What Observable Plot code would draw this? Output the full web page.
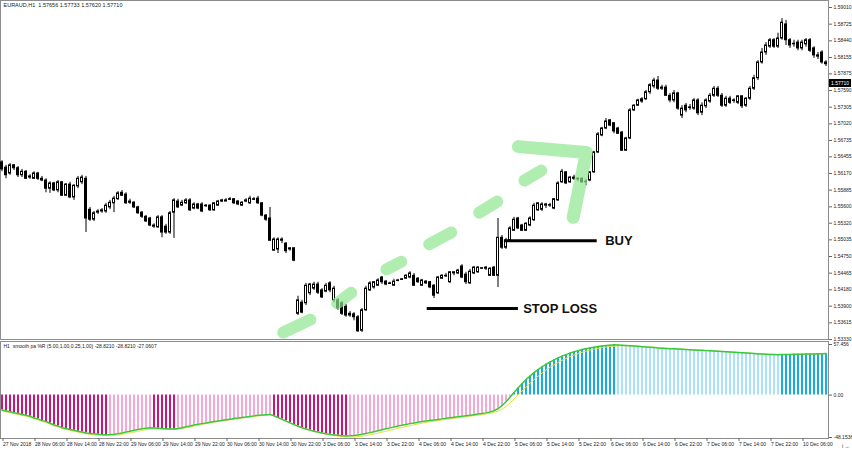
<!DOCTYPE html>
<html><head><meta charset="utf-8">
<script src="https://cdn.jsdelivr.net/npm/d3@7"></script>
<script src="https://cdn.jsdelivr.net/npm/@observablehq/plot@0.6"></script>
<style>
body{margin:0;background:#fff;}
#chart{position:relative;width:852px;height:450px;overflow:hidden;background:#fff;}
#chart svg{position:absolute;left:0;}
</style></head><body><div id="chart"></div>
<script>
const title = "EURAUD,H1  1.57656 1.57733 1.57620 1.57710";
const indTitle = "H1  smooth pa %R (5.00,1.00,0.25,1.00) -28.8210 -28.8210 -27.0607";
const lastPrice = 1.57710;
const priceTicks = [1.59010,1.58725,1.58440,1.58155,1.57875,1.57590,1.57305,1.57020,1.56735,1.56455,1.56170,1.55885,1.55600,1.55320,1.55035,1.54750,1.54465,1.54180,1.53900,1.53615,1.53330];
const indTicks = [57.456, 0, -48.1536];
const indTickLabels = ["57.456", "0.00", "-48.1536"];
const timeIdx = [0,8,16,24,32,40,48,56,64,72,80,88,96,104,112,120,128,136,144,152,160,168,176,184,192,200];
const timeLabels = ["27 Nov 2018","28 Nov 06:00","28 Nov 14:00","28 Nov 22:00","29 Nov 06:00","29 Nov 14:00","29 Nov 22:00","30 Nov 06:00","30 Nov 14:00","30 Nov 22:00","3 Dec 06:00","3 Dec 14:00","3 Dec 22:00","4 Dec 06:00","4 Dec 14:00","4 Dec 22:00","5 Dec 06:00","5 Dec 14:00","5 Dec 22:00","6 Dec 06:00","6 Dec 14:00","6 Dec 22:00","7 Dec 06:00","7 Dec 14:00","7 Dec 22:00","10 Dec 06:00"];

const open = [1.5636,1.5627,1.5617,1.5631,1.5626,1.5614,1.5620,1.5610,1.5608,1.5617,
1.5608,1.5605,1.5591,1.5600,1.5588,1.5602,1.5579,1.5598,1.5576,1.5595,
1.5602,1.5608,1.5555,1.5538,1.5550,1.5552,1.5552,1.5559,1.5566,1.5573,
1.5584,1.5581,1.5569,1.5567,1.5559,1.5550,1.5543,1.5540,1.5526,1.5525,
1.5542,1.5526,1.5516,1.5550,1.5569,1.5562,1.5566,1.5571,1.5557,1.5564,
1.5564,1.5561,1.5562,1.5554,1.5562,1.5569,1.5571,1.5573,1.5573,1.5569,
1.5562,1.5569,1.5566,1.5573,1.5574,1.5566,1.5545,1.5540,1.5485,1.5487,
1.5504,1.5497,1.5487,1.5489,1.5377,1.5396,1.5395,1.5412,1.5420,1.5427,
1.5417,1.5415,1.5429,1.5400,1.5400,1.5395,1.5389,1.5377,1.5376,1.5371,
1.5348,1.5383,1.5417,1.5422,1.5425,1.5439,1.5432,1.5429,1.5425,1.5434,
1.5436,1.5437,1.5439,1.5442,1.5437,1.5425,1.5432,1.5431,1.5425,1.5412,
1.5437,1.5441,1.5431,1.5446,1.5446,1.5458,1.5444,1.5429,1.5446,1.5448,
1.5454,1.5456,1.5442,1.5456,1.5442,1.5507,1.5490,1.5502,1.5519,1.5540,
1.5528,1.5519,1.5528,1.5537,1.5554,1.5555,1.5562,1.5562,1.5557,1.5571,
1.5602,1.5619,1.5602,1.5610,1.5608,1.5608,1.5602,1.5605,1.5619,1.5653,
1.5682,1.5694,1.5708,1.5703,1.5694,1.5687,1.5656,1.5677,1.5725,1.5733,
1.5740,1.5744,1.5756,1.5766,1.5776,1.5762,1.5764,1.5750,1.5742,1.5754,
1.5716,1.5733,1.5730,1.5728,1.5742,1.5721,1.5732,1.5740,1.5750,1.5762,
1.5750,1.5733,1.5745,1.5742,1.5738,1.5749,1.5733,1.5745,1.5762,1.5780,
1.5807,1.5824,1.5834,1.5845,1.5834,1.5848,1.5872,1.5845,1.5839,1.5841,
1.5831,1.5838,1.5845,1.5831,1.5819,1.5824,1.5807];
const high = [1.5639,1.5631,1.5634,1.5632,1.5629,1.5624,1.5622,1.5615,1.5620,1.5619,
1.5612,1.5608,1.5603,1.5602,1.5605,1.5603,1.5600,1.5602,1.5598,1.5612,
1.5614,1.5612,1.5559,1.5552,1.5555,1.5557,1.5566,1.5571,1.5578,1.5586,
1.5588,1.5584,1.5573,1.5569,1.5561,1.5552,1.5545,1.5542,1.5531,1.5545,
1.5545,1.5530,1.5552,1.5574,1.5573,1.5571,1.5574,1.5574,1.5567,1.5566,
1.5567,1.5564,1.5564,1.5567,1.5571,1.5573,1.5574,1.5576,1.5574,1.5571,
1.5569,1.5574,1.5578,1.5576,1.5578,1.5567,1.5547,1.5559,1.5507,1.5507,
1.5507,1.5499,1.5490,1.5490,1.5407,1.5400,1.5429,1.5429,1.5431,1.5431,
1.5420,1.5429,1.5432,1.5424,1.5403,1.5398,1.5393,1.5381,1.5379,1.5374,
1.5386,1.5424,1.5432,1.5432,1.5437,1.5441,1.5434,1.5431,1.5436,1.5436,
1.5437,1.5444,1.5449,1.5446,1.5439,1.5436,1.5434,1.5432,1.5427,1.5441,
1.5444,1.5446,1.5449,1.5449,1.5453,1.5461,1.5448,1.5453,1.5458,1.5458,
1.5456,1.5458,1.5456,1.5458,1.5540,1.5511,1.5506,1.5526,1.5542,1.5542,
1.5530,1.5533,1.5543,1.5566,1.5567,1.5567,1.5566,1.5566,1.5574,1.5603,
1.5624,1.5620,1.5612,1.5614,1.5610,1.5610,1.5607,1.5620,1.5655,1.5687,
1.5696,1.5711,1.5709,1.5704,1.5696,1.5689,1.5679,1.5728,1.5735,1.5744,
1.5747,1.5759,1.5771,1.5780,1.5783,1.5768,1.5768,1.5754,1.5759,1.5756,
1.5733,1.5737,1.5735,1.5745,1.5745,1.5738,1.5745,1.5754,1.5766,1.5766,
1.5754,1.5749,1.5749,1.5745,1.5750,1.5750,1.5747,1.5766,1.5785,1.5810,
1.5831,1.5841,1.5848,1.5848,1.5857,1.5882,1.5879,1.5848,1.5845,1.5845,
1.5845,1.5848,1.5848,1.5834,1.5824,1.5827,1.5810];
const low = [1.5620,1.5608,1.5614,1.5622,1.5610,1.5610,1.5607,1.5607,1.5607,1.5605,
1.5603,1.5584,1.5583,1.5586,1.5584,1.5578,1.5578,1.5574,1.5571,1.5591,
1.5598,1.5516,1.5535,1.5535,1.5547,1.5549,1.5549,1.5555,1.5550,1.5571,
1.5578,1.5564,1.5564,1.5557,1.5547,1.5540,1.5533,1.5526,1.5523,1.5523,
1.5507,1.5513,1.5513,1.5506,1.5557,1.5561,1.5564,1.5552,1.5555,1.5555,
1.5550,1.5559,1.5552,1.5552,1.5561,1.5567,1.5569,1.5571,1.5564,1.5562,
1.5561,1.5567,1.5564,1.5571,1.5564,1.5543,1.5535,1.5501,1.5484,1.5480,
1.5497,1.5480,1.5484,1.5466,1.5374,1.5377,1.5391,1.5408,1.5417,1.5410,
1.5403,1.5413,1.5413,1.5396,1.5383,1.5374,1.5371,1.5371,1.5365,1.5345,
1.5345,1.5381,1.5415,1.5419,1.5424,1.5427,1.5425,1.5427,1.5424,1.5432,
1.5434,1.5436,1.5437,1.5424,1.5429,1.5424,1.5427,1.5420,1.5403,1.5410,
1.5436,1.5439,1.5429,1.5442,1.5444,1.5437,1.5427,1.5427,1.5444,1.5446,
1.5453,1.5451,1.5441,1.5441,1.5422,1.5487,1.5487,1.5499,1.5518,1.5521,
1.5518,1.5518,1.5526,1.5535,1.5552,1.5552,1.5557,1.5559,1.5555,1.5569,
1.5600,1.5598,1.5600,1.5605,1.5603,1.5600,1.5596,1.5603,1.5617,1.5651,
1.5680,1.5692,1.5697,1.5685,1.5684,1.5655,1.5655,1.5675,1.5723,1.5732,
1.5737,1.5742,1.5752,1.5762,1.5759,1.5759,1.5749,1.5738,1.5738,1.5725,
1.5711,1.5721,1.5725,1.5725,1.5716,1.5716,1.5728,1.5737,1.5747,1.5747,
1.5730,1.5730,1.5735,1.5737,1.5735,1.5728,1.5730,1.5742,1.5759,1.5776,
1.5804,1.5819,1.5831,1.5831,1.5831,1.5845,1.5836,1.5831,1.5833,1.5827,
1.5827,1.5833,1.5824,1.5814,1.5812,1.5804,1.5800];
const close = [1.5624,1.5614,1.5631,1.5626,1.5614,1.5620,1.5608,1.5612,1.5617,1.5608,
1.5605,1.5591,1.5600,1.5588,1.5602,1.5579,1.5598,1.5576,1.5596,1.5608,
1.5610,1.5540,1.5538,1.5549,1.5552,1.5554,1.5562,1.5567,1.5574,1.5583,
1.5579,1.5566,1.5567,1.5559,1.5549,1.5543,1.5535,1.5528,1.5528,1.5542,
1.5516,1.5516,1.5549,1.5571,1.5559,1.5567,1.5571,1.5554,1.5564,1.5557,
1.5552,1.5562,1.5554,1.5566,1.5569,1.5571,1.5569,1.5572,1.5566,1.5564,
1.5567,1.5571,1.5574,1.5572,1.5566,1.5545,1.5538,1.5502,1.5504,1.5504,
1.5502,1.5484,1.5489,1.5468,1.5400,1.5379,1.5425,1.5427,1.5427,1.5413,
1.5405,1.5425,1.5417,1.5420,1.5386,1.5377,1.5374,1.5374,1.5371,1.5347,
1.5383,1.5420,1.5429,1.5431,1.5434,1.5431,1.5427,1.5428,1.5432,1.5433,
1.5435,1.5442,1.5446,1.5425,1.5431,1.5434,1.5429,1.5422,1.5408,1.5439,
1.5442,1.5442,1.5448,1.5448,1.5451,1.5439,1.5431,1.5449,1.5456,1.5456,
1.5455,1.5454,1.5454,1.5442,1.5507,1.5490,1.5502,1.5523,1.5538,1.5523,
1.5519,1.5531,1.5540,1.5562,1.5566,1.5564,1.5564,1.5563,1.5573,1.5600,
1.5620,1.5600,1.5610,1.5608,1.5607,1.5602,1.5603,1.5619,1.5653,1.5684,
1.5694,1.5706,1.5699,1.5689,1.5685,1.5656,1.5677,1.5725,1.5733,1.5742,
1.5744,1.5756,1.5768,1.5776,1.5762,1.5764,1.5750,1.5742,1.5754,1.5728,
1.5728,1.5725,1.5729,1.5742,1.5720,1.5733,1.5742,1.5750,1.5762,1.5750,
1.5733,1.5745,1.5738,1.5741,1.5749,1.5732,1.5745,1.5762,1.5780,1.5807,
1.5824,1.5836,1.5845,1.5834,1.5848,1.5875,1.5845,1.5836,1.5838,1.5831,
1.5841,1.5845,1.5827,1.5819,1.5817,1.5807,1.5804];

// indicator: smooth pa %R main line (green) and signal (yellow)
const pctR = [-17,-18,-19,-20,-21,-22,-23,-24,-26,-27,
-29,-30,-32,-34,-35,-37,-38,-39,-40,-41,
-42,-43,-43.5,-44,-44.5,-44.8,-45,-44.8,-44.4,-43.8,
-43,-42,-41,-40,-39,-38.2,-37.6,-37.2,-37.4,-37.7,
-38,-38.3,-38.5,-38.6,-37.9,-37,-36,-35,-34,-33.2,
-32.4,-31.6,-30.8,-30,-29.3,-28.6,-28,-27.3,-26.7,-26,
-25.4,-24.8,-24.2,-23.6,-23,-22.6,-22.2,-21.9,-23.5,-25.5,
-27.5,-29.5,-31.5,-33.5,-35.3,-37,-38.5,-39.8,-41,-42,
-43,-43.9,-44.6,-45.2,-45.7,-46.1,-46.4,-46.2,-45.8,-45.2,
-44.5,-43.6,-42.6,-41.6,-40.5,-39.4,-38.3,-37.2,-36.2,-35.2,
-34.2,-33.3,-32.4,-31.6,-30.8,-30.1,-29.4,-28.8,-28.2,-27.6,
-27,-26.4,-25.8,-25.2,-24.6,-24,-23.4,-22.8,-22.2,-21.6,
-21,-20.2,-19.2,-17.8,-15.5,-12,-7.5,-2.5,3,8,
13,17.5,21.5,25.5,29,32,35,37.5,40,42.2,
44.2,46,47.7,49.2,50.5,51.7,52.7,53.6,54.4,55.1,
55.7,56.2,56.7,57.1,56.9,56.6,56.3,56.0,55.7,55.4,
55.0,54.7,54.3,54.0,53.6,53.3,53.0,52.75,52.5,52.25,
52.0,51.75,51.5,51.25,51.0,50.8,50.5,50.25,50.0,49.7,
49.45,49.2,48.9,48.6,48.3,48.0,47.7,47.4,47.1,46.8,
46.55,46.3,46.15,46.0,45.9,46.0,46.1,46.2,46.3,46.4,
46.5,46.6,46.7,46.8,46.9,47.0,47.1];
const signal = [-18,-19,-20,-21,-22,-23,-24,-25,-27,-28,
-30,-31,-33,-35,-36,-38,-39,-40,-41,-42,
-43,-44,-44.5,-45,-45.5,-45.8,-46,-46,-45.8,-45.3,
-44.6,-43.8,-42.9,-42,-41,-40.1,-39.3,-38.7,-38.4,-38.4,
-38.6,-38.9,-39.1,-39.2,-38.8,-38.1,-37.2,-36.2,-35.2,-34.3,
-33.4,-32.5,-31.7,-30.9,-30.1,-29.4,-28.7,-28,-27.4,-26.8,
-26.1,-25.5,-24.9,-24.3,-23.7,-23.2,-22.8,-22.5,-23.6,-25.4,
-27.3,-29.3,-31.3,-33.3,-35.2,-37,-38.6,-40,-41.3,-42.4,
-43.5,-44.5,-45.3,-46,-46.6,-47.1,-47.5,-47.6,-47.5,-47.1,
-46.6,-45.9,-45.1,-44.2,-43.2,-42.2,-41.1,-40,-38.9,-37.8,
-36.8,-35.7,-34.7,-33.7,-32.8,-31.9,-31.1,-30.3,-29.6,-28.9,
-28.3,-27.6,-27,-26.4,-25.8,-25.2,-24.6,-24,-23.4,-22.8,
-22.2,-21.5,-20.7,-19.7,-18.2,-16,-13,-9,-4.5,0,
4.5,9,13.5,17.5,21.5,25,28.5,31.5,34.5,37,
39.5,41.7,43.7,45.5,47.1,48.6,49.9,51.1,52.1,53,
53.8,54.5,55.1,55.6,55.9,56,56,55.9,55.7,55.5,
55.2,54.9,54.6,54.3,54,53.6,53.3,53,52.7,52.4,
52.2,51.9,51.7,51.4,51.2,50.9,50.7,50.4,50.1,49.9,
49.6,49.3,49.1,48.8,48.5,48.2,47.9,47.6,47.3,47,
46.8,46.5,46.3,46.1,46,45.95,46,46.05,46.15,46.25,
46.35,46.45,46.55,46.65,46.75,46.85,46.95];

// annotations (bar index, price)
const dashX1 = [70.3, 83.8, 96.1, 106.8, 119.3, 130.6];
const dashY1 = [1.5345, 1.5395, 1.5453, 1.5496, 1.5550, 1.5605];
const dashX2 = [77.1, 87.3, 99.8, 112.3, 123.8, 134.8];
const dashY2 = [1.5367, 1.5413, 1.5466, 1.5516, 1.5569, 1.5622];
const arrowX = [129.1, 146.1, 142.8];
const arrowY = [1.5663, 1.5653, 1.5542];
const buyLevel = 1.5502, buyFrom = 125.6, buyTo = 148.8, buyText = "BUY";
const slLevel = 1.5386, slFrom = 106.3, slTo = 129.1, slText = "STOP LOSS";

const font = "Liberation Sans, Arial, sans-serif";
const N = open.length;
const xDomain = [-0.375, N - 0.375];
const candles = open.map((o, i) => ({i, o, h: high[i], l: low[i], c: close[i]}));
const dashes = dashX1.map((x, k) => ({x1: x, y1: dashY1[k], x2: dashX2[k], y2: dashY2[k]}));
const arrow = arrowX.map((x, k) => ({x, y: arrowY[k]}));
const ind = pctR.map((v, i) => {
  const prev = i > 0 ? pctR[i - 1] : v + 1;
  const rising = v > prev;
  let color;
  if (v < 0) color = rising ? "#f4a8d6" : "#c8157f";
  else color = rising ? "#14aee6" : "#a9e2f9";
  return {i, v, s: signal[i], color};
});

const greenStroke = {stroke: "#8fe68f", strokeOpacity: 0.7, strokeLinecap: "round", strokeLinejoin: "round"};

function priceTag(index, scales, values, dimensions) {
  const y = scales.y(lastPrice);
  const x0 = dimensions.width - dimensions.marginRight + 1;
  const g = d3.create("svg:g");
  g.append("rect").attr("x", x0).attr("y", y - 4).attr("width", 22).attr("height", 8).attr("fill", "black");
  g.append("text").attr("x", x0 + 2).attr("y", y).attr("dy", "0.35em").attr("fill", "white")
    .attr("text-anchor", "start").attr("font-size", 5).attr("font-family", font).text(lastPrice.toFixed(5));
  return g.node();
}

const main = Plot.plot({
  width: 852, height: 339,
  marginLeft: 0, marginRight: 24, marginTop: 0, marginBottom: 0,
  x: {domain: xDomain, axis: null},
  y: {domain: [1.5333, 1.5913], axis: null},
  style: {background: "white", fontFamily: font, overflow: "visible"},
  marks: [
    Plot.frame({stroke: "#8c8c8c"}),
    Plot.axisY(priceTicks, {anchor: "right", tickSize: 3, tickPadding: 2, fontSize: 5, tickFormat: d => d.toFixed(5), stroke: "#666", fill: "#222"}),
    Plot.ruleX(candles, {x: "i", y1: "l", y2: "h", stroke: "black", strokeWidth: 1}),
    Plot.rect(candles, {x1: d => d.i - 0.25, x2: d => d.i + 0.25, y1: "o", y2: "c",
      fill: d => d.c >= d.o ? "white" : "black", stroke: "black", strokeWidth: 1}),
    Plot.link(dashes, {x1: "x1", y1: "y1", x2: "x2", y2: "y2", strokeWidth: 12, ...greenStroke}),
    Plot.line(arrow, {x: "x", y: "y", strokeWidth: 13, ...greenStroke}),
    Plot.ruleY([buyLevel], {x1: buyFrom, x2: buyTo, stroke: "black", strokeWidth: 3}),
    Plot.ruleY([slLevel], {x1: slFrom, x2: slTo, stroke: "black", strokeWidth: 3}),
    Plot.text([buyText], {x: buyTo + 2, y: buyLevel, text: d => d, textAnchor: "start", fontSize: 13, fontWeight: "bold", fill: "#111"}),
    Plot.text([slText], {x: slTo + 1.2, y: slLevel, text: d => d, textAnchor: "start", fontSize: 13, fontWeight: "bold", fill: "#111"}),
    Plot.text([title], {frameAnchor: "top-left", dx: 3, dy: 3, text: d => d, textAnchor: "start", lineAnchor: "top", fontSize: 5.5, fill: "#222"}),
    priceTag
  ]
});
main.style.top = "0px";

const indicator = Plot.plot({
  width: 852, height: 109,
  marginLeft: 0, marginRight: 24, marginTop: 0, marginBottom: 12,
  x: {domain: xDomain, axis: null},
  y: {domain: [-48.1536, 57.456], range: [96, 3], axis: null},
  style: {background: "white", fontFamily: font},
  marks: [
    Plot.frame({stroke: "#8c8c8c"}),
    Plot.ruleX(ind, {x: "i", y1: 0, y2: "v", stroke: "color", strokeWidth: 2}),
    Plot.line(ind, {x: "i", y: "s", stroke: "#e9e04a", strokeWidth: 1}),
    Plot.line(ind, {x: "i", y: "v", stroke: "#38c838", strokeWidth: 1.5}),
    Plot.axisY(indTicks, {anchor: "right", tickSize: 3, tickPadding: 2, fontSize: 5, tickFormat: d => indTickLabels[indTicks.indexOf(d)], stroke: "#666", fill: "#222"}),
    Plot.axisX(timeIdx, {anchor: "bottom", tickSize: 3, tickPadding: 1, fontSize: 5, textAnchor: "start", dx: 1, tickFormat: d => timeLabels[timeIdx.indexOf(d)], stroke: "#666", fill: "#222"}),
    Plot.text([indTitle], {frameAnchor: "top-left", dx: 3, dy: 3, text: d => d, textAnchor: "start", lineAnchor: "top", fontSize: 5, fill: "#222"})
  ]
});
indicator.style.top = "341px";

const root = document.getElementById("chart");
root.appendChild(indicator);
root.appendChild(main);
</script>
</body></html>
